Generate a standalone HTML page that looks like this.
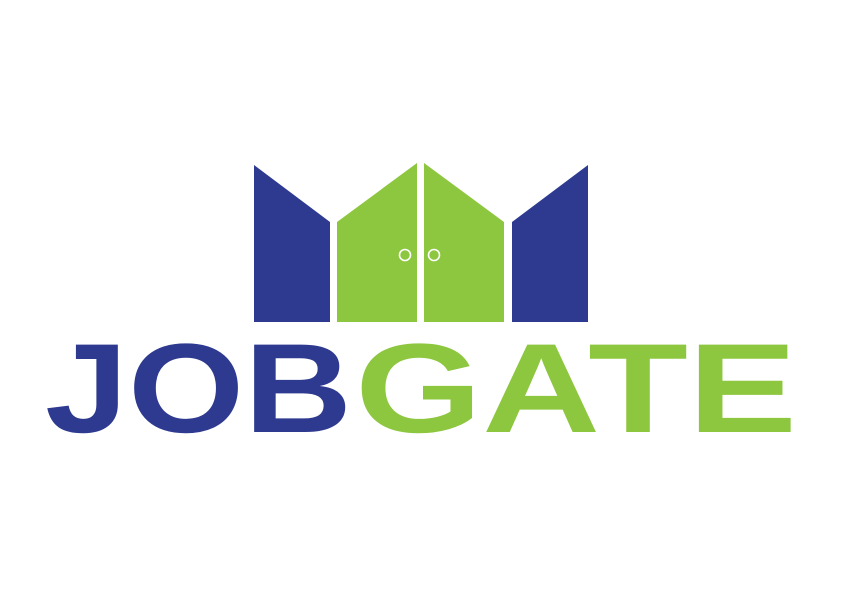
<!DOCTYPE html>
<html><head><meta charset="utf-8"><style>
html,body{margin:0;padding:0;background:#fff;width:842px;height:595px;overflow:hidden}
</style></head><body>
<svg width="842" height="595" viewBox="0 0 842 595">
<polygon points="254,165 330,222 330,322 254,322" fill="#2e3a8f"/>
<polygon points="337,222 417,163 417,322 337,322" fill="#8dc63f"/>
<polygon points="424,163 504,222 504,322 424,322" fill="#8dc63f"/>
<polygon points="512,222 588,165 588,322 512,322" fill="#2e3a8f"/>
<circle cx="405" cy="255" r="5.5" fill="none" stroke="#fff" stroke-width="1.6"/>
<circle cx="434" cy="255" r="5.5" fill="none" stroke="#fff" stroke-width="1.6"/>
<text x="45" y="432" font-family="Liberation Sans, sans-serif" font-weight="bold" font-size="127" fill="#2e3a8f" textLength="307" lengthAdjust="spacingAndGlyphs">JOB</text>
<text x="355" y="432" font-family="Liberation Sans, sans-serif" font-weight="bold" font-size="127" fill="#8dc63f" textLength="442" lengthAdjust="spacingAndGlyphs">GATE</text>
</svg>
</body></html>
